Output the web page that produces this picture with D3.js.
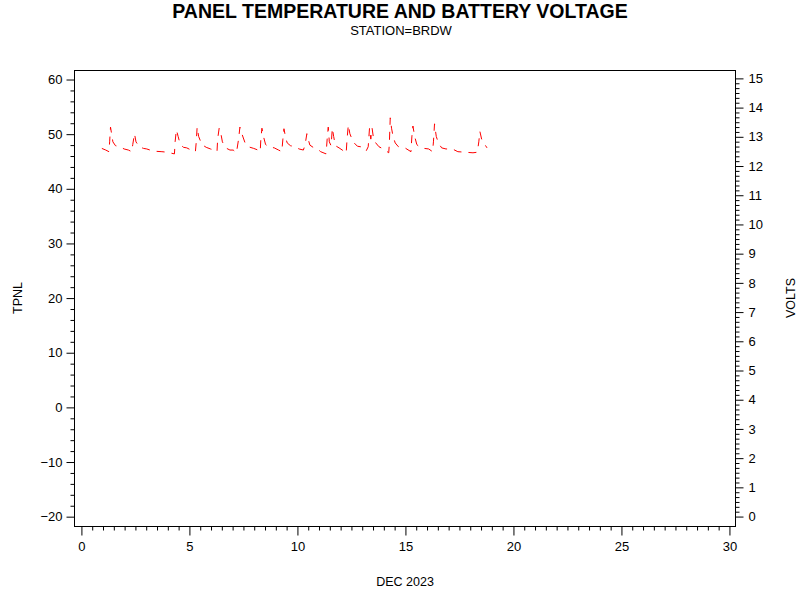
<!DOCTYPE html>
<html><head><meta charset="utf-8">
<script src="https://cdn.jsdelivr.net/npm/d3@7"></script>
<style>body{margin:0;background:#fff}svg{display:block}text{font-family:"Liberation Sans",Arial,sans-serif}</style>
</head><body>
<svg id="c" width="800" height="600"></svg>
<script>
// Panel temperature (TPNL) readings: time in days of DEC 2023, value in degrees
const times = [
 0.97,1.15,1.30,1.33,1.37,1.42,1.48,1.60,1.80,2.00,
 2.20,2.35,2.40,2.48,2.55,2.70,2.90,3.05,
 3.35,3.75,4.00,
 4.10,4.33,4.36,4.42,4.50,4.60,4.75,
 4.90,5.10,5.30,5.34,5.38,5.45,5.60,5.80,6.00,
 6.15,6.30,6.33,6.40,6.48,6.55,6.70,6.90,
 7.05,7.20,7.30,7.36,7.45,7.52,7.60,7.75,8.00,
 8.20,8.30,8.33,8.38,8.45,8.55,8.70,
 8.95,9.15,9.30,9.35,9.40,9.48,9.55,9.70,9.90,10.10,
 10.30,10.38,10.46,10.52,10.60,10.75,10.95,
 11.10,11.35,11.40,11.45,11.50,11.58,11.64,11.70,11.78,11.95,
 12.10,12.28,12.32,12.38,12.45,12.55,12.65,12.80,
 12.95,13.20,13.30,13.36,13.42,13.48,13.55,13.65,13.80,
 14.00,14.25,14.28,14.32,14.38,14.45,14.55,14.70,
 15.00,15.28,15.32,15.37,15.45,15.55,15.70,15.90,
 16.10,16.28,16.32,16.37,16.45,16.55,16.70,16.90,
 17.20,17.45,17.80,18.15,
 18.35,18.42,18.47,18.55,18.65,18.80
];
const tpnl = [
 47.3,47.0,46.7,48.5,51.2,50.0,48.5,47.8,47.6,47.2,
 47.0,46.7,48.0,50.0,48.5,47.6,47.3,47.2,
 46.8,46.7,46.6,
 46.5,46.3,48.5,50.7,49.5,48.0,47.5,
 47.4,47.0,46.7,48.5,51.2,49.5,48.0,47.5,47.2,
 47.0,46.7,49.0,51.0,50.0,48.5,47.4,47.0,
 47.0,46.5,49.0,51.2,50.0,49.2,48.3,47.6,47.3,
 47.0,46.7,49.0,51.0,49.5,48.0,47.6,
 47.4,47.0,46.7,49.0,50.9,49.2,48.3,47.8,47.6,47.2,
 47.0,48.0,50.0,49.0,47.9,47.5,47.2,
 46.7,46.3,49.0,51.2,48.5,47.8,51.0,49.5,47.8,47.4,
 47.0,46.4,49.0,51.6,50.0,49.0,48.3,47.7,
 47.6,46.8,47.6,51.0,49.0,51.0,49.0,48.3,47.6,
 47.2,46.5,48.3,52.9,51.0,49.5,48.3,47.6,
 47.4,46.7,49.4,51.4,49.5,48.0,47.5,47.3,
 47.2,46.7,48.5,51.8,49.5,48.3,47.4,47.2,
 47.2,46.7,46.6,46.5,
 46.6,48.5,50.4,49.0,48.3,47.4
];
const xTicks = [0,5,10,15,20,25,30];
const yLeftTicks = [-20,-10,0,10,20,30,40,50,60];
const yRightTicks = [0,1,2,3,4,5,6,7,8,9,10,11,12,13,14,15];

const svg = d3.select("#c");
const L=74,R=735,T=70,B=526;
const x = d3.scaleLinear().domain([-0.32,30.28]).range([L,R]);
const yL = d3.scaleLinear().domain([-21.8,61.65]).range([B,T]);
const yR = d3.scaleLinear().domain([-0.34,15.27]).range([B,T]);

// frame
svg.append("rect").attr("x",L+0.5).attr("y",T+0.5).attr("width",R-L).attr("height",B-T)
  .attr("fill","none").attr("stroke","#000").attr("stroke-width",1);

function styleAxis(g){ g.select(".domain").remove(); g.selectAll("line").attr("stroke","#000"); g.selectAll("text").attr("fill","#000").style("font-size","13px"); }

// x minor + major
const xMinor = d3.range(0,30.01,0.5).filter(v=>v%5!==0);
svg.append("g").attr("transform",`translate(0.5,${B+0.5})`)
  .call(d3.axisBottom(x).tickValues(xMinor).tickSize(4).tickFormat(""))
  .call(styleAxis);
svg.append("g").attr("transform",`translate(0.5,${B+0.5})`)
  .call(d3.axisBottom(x).tickValues(xTicks).tickSize(9).tickPadding(6).tickFormat(d3.format("d")))
  .call(styleAxis);

// left axis
const ylMinor = d3.range(-20,60.01,2).filter(v=>v%10!==0);
svg.append("g").attr("transform",`translate(${L+0.5},0.5)`)
  .call(d3.axisLeft(yL).tickValues(ylMinor).tickSize(4).tickFormat(""))
  .call(styleAxis);
svg.append("g").attr("transform",`translate(${L+0.5},0.5)`)
  .call(d3.axisLeft(yL).tickValues(yLeftTicks).tickSize(8).tickPadding(4).tickFormat(d3.format("d")))
  .call(styleAxis);

// right axis
const yrMinor = [];
for(let i=0;i<15;i++) for(let k=1;k<6;k++) yrMinor.push(i+k/6);
svg.append("g").attr("transform",`translate(${R+0.5},0.5)`)
  .call(d3.axisRight(yR).tickValues(yrMinor).tickSize(4).tickFormat(""))
  .call(styleAxis);
svg.append("g").attr("transform",`translate(${R+0.5},0.5)`)
  .call(d3.axisRight(yR).tickValues(yRightTicks).tickSize(8).tickPadding(5).tickFormat(d3.format("d")))
  .call(styleAxis);

// data line
const pts = times.map((t,i)=>[t,tpnl[i]]);
svg.append("path").datum(pts)
  .attr("fill","none").attr("stroke","#ff0000").attr("stroke-width",1)
  .attr("stroke-dasharray","8,7")
  .attr("d", d3.line().x(d=>x(d[0])).y(d=>yL(d[1])));

// titles
svg.append("text").attr("x",400).attr("y",18).attr("text-anchor","middle")
  .style("font-size","19.5px").style("font-weight","bold").text("PANEL TEMPERATURE AND BATTERY VOLTAGE");
svg.append("text").attr("x",401).attr("y",35).attr("text-anchor","middle")
  .style("font-size","13px").text("STATION=BRDW");
svg.append("text").attr("x",405).attr("y",586).attr("text-anchor","middle")
  .style("font-size","12.5px").text("DEC 2023");
svg.append("text").attr("transform","translate(22,298) rotate(-90)").attr("text-anchor","middle")
  .style("font-size","12.5px").text("TPNL");
svg.append("text").attr("transform","translate(795,298) rotate(-90)").attr("text-anchor","middle")
  .style("font-size","12.5px").text("VOLTS");
</script>
</body></html>
